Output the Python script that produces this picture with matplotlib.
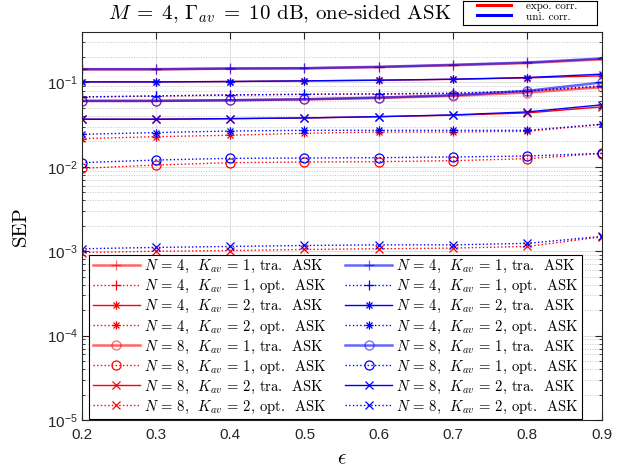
"""
SEP vs correlation coefficient, one-sided ASK (M = 4, Gamma_av = 10 dB).
"""

import matplotlib
matplotlib.use("Agg")
import matplotlib.pyplot as plt
from matplotlib.path import Path
from matplotlib.ticker import LogLocator, NullFormatter

plt.rcParams["font.family"] = ["Liberation Sans", "DejaVu Sans"]
plt.rcParams["mathtext.fontset"] = "cm"

eps = [0.2, 0.3, 0.4, 0.5, 0.6, 0.7, 0.8, 0.9]

# exponential correlation (red)
expo_n4_k1_tra = [0.143, 0.143, 0.146, 0.147, 0.152, 0.160, 0.170, 0.188]
expo_n4_k1_opt = [0.0672, 0.0690, 0.0710, 0.0723, 0.0730, 0.0742, 0.0790, 0.089]
expo_n4_k2_tra = [0.1017, 0.1017, 0.1027, 0.1046, 0.1063, 0.1090, 0.1135, 0.1199]
expo_n4_k2_opt = [0.0216, 0.0228, 0.0237, 0.0250, 0.0259, 0.0259, 0.0264, 0.0318]
expo_n8_k1_tra = [0.0605, 0.0605, 0.0616, 0.0630, 0.0655, 0.0694, 0.0760, 0.0880]
expo_n8_k1_opt = [0.00960, 0.01051, 0.01121, 0.01141, 0.01152, 0.01184, 0.0125, 0.01440]
expo_n8_k2_tra = [0.0367, 0.0367, 0.0373, 0.0380, 0.0393, 0.0410, 0.0436, 0.0514]
expo_n8_k2_opt = [0.000965, 0.00100, 0.00102, 0.00105, 0.00107, 0.00109, 0.00114, 0.00148]

# uniform correlation (blue)
uni_n4_k1_tra = [0.1439, 0.1439, 0.1466, 0.1479, 0.1534, 0.1620, 0.1726, 0.1926]
uni_n4_k1_opt = [0.0675, 0.0694, 0.0713, 0.0726, 0.0733, 0.0746, 0.0796, 0.0912]
uni_n4_k2_tra = [0.1017, 0.1017, 0.1027, 0.1046, 0.1065, 0.1094, 0.1146, 0.1255]
uni_n4_k2_opt = [0.0243, 0.0255, 0.0266, 0.0271, 0.0271, 0.0271, 0.0271, 0.0320]
uni_n8_k1_tra = [0.0605, 0.0605, 0.0616, 0.0633, 0.0663, 0.0707, 0.0796, 0.1000]
uni_n8_k1_opt = [0.01121, 0.01205, 0.01262, 0.01273, 0.01285, 0.01309, 0.01345, 0.01446]
uni_n8_k2_tra = [0.0367, 0.0367, 0.0373, 0.0380, 0.0394, 0.0413, 0.0448, 0.0543]
uni_n8_k2_opt = [0.00107, 0.00111, 0.00114, 0.00117, 0.00119, 0.00119, 0.00124, 0.00150]

# matlab style asterisk = plus + cross
ast = Path(
    [(-1, 0), (1, 0), (0, -1), (0, 1),
     (-0.72, -0.72), (0.72, 0.72), (-0.72, 0.72), (0.72, -0.72)],
    [Path.MOVETO, Path.LINETO] * 4,
)

# (N, K, scheme, marker, linestyle, expo values, uni values)
series = [
    (4, 1, "tra.", "+", "-", expo_n4_k1_tra, uni_n4_k1_tra),
    (4, 1, "opt.", "+", ":", expo_n4_k1_opt, uni_n4_k1_opt),
    (4, 2, "tra.", ast, "-", expo_n4_k2_tra, uni_n4_k2_tra),
    (4, 2, "opt.", ast, ":", expo_n4_k2_opt, uni_n4_k2_opt),
    (8, 1, "tra.", "o", "-", expo_n8_k1_tra, uni_n8_k1_tra),
    (8, 1, "opt.", "o", ":", expo_n8_k1_opt, uni_n8_k1_opt),
    (8, 2, "tra.", "x", "-", expo_n8_k2_tra, uni_n8_k2_tra),
    (8, 2, "opt.", "x", ":", expo_n8_k2_opt, uni_n8_k2_opt),
]

fig = plt.figure(figsize=(6.28, 4.71), dpi=100)
ax = fig.add_axes([0.130, 0.1083, 0.828, 0.8244])

handles = []
for col_idx, color in enumerate(["red", "blue"]):
    for n, k, scheme, marker, ls, expo_vals, uni_vals in series:
        vals = expo_vals if col_idx == 0 else uni_vals
        thick = ls == "-" and marker in ("+", "o")
        msize = 6.5 if marker in ("o", "+") else 6.0
        line, = ax.plot(
            eps, vals, color=color, linestyle=ls, marker=marker,
            markersize=msize, markerfacecolor="none", markeredgewidth=0.9,
            linewidth=1.8 if thick else 1.0, alpha=0.6 if thick else 1.0,
            label=rf"$N\,=\,{n}$,  $K_{{av}}\,=\,{k}$, {scheme}  ASK",
        )
        handles.append(line)

ax.set_yscale("log")
ax.set_xlim(0.2, 0.9)
ax.set_ylim(1e-5, 0.4)
ax.set_xticks(eps)
ax.yaxis.set_major_locator(LogLocator(base=10, numticks=10))
ax.yaxis.set_minor_locator(LogLocator(base=10, subs=range(2, 10), numticks=20))
ax.yaxis.set_minor_formatter(NullFormatter())

ax.grid(True, which="major", color="#dedede", linewidth=0.7, linestyle="-")
ax.grid(True, which="minor", axis="y", color="#c4c4c4", linewidth=0.7, linestyle=":")
ax.set_axisbelow(True)

for sp in ax.spines.values():
    sp.set_color("#262626")
    sp.set_linewidth(0.8)
ax.tick_params(which="both", direction="in", top=True, right=True, colors="#262626")
ax.tick_params(which="major", length=5, labelsize=11)
ax.tick_params(which="minor", length=2.5)
ax.tick_params(axis="x", pad=6)
ax.tick_params(axis="y", pad=3)

ax.set_ylabel("SEP", family="cmr10", fontsize=15)
ax.yaxis.set_label_coords(-0.10, 0.5)
ax.set_xlabel(r"$\epsilon$", fontsize=15)
ax.xaxis.set_label_coords(0.5, -0.075)

fig.text(0.172, 1 - 19.5 / 471,
         r"$M\;=\;4$, $\Gamma_{av}\;=\;10$ dB, one-sided ASK",
         family="cmr10", fontsize=15, ha="left", va="baseline")

leg = ax.legend(
    handles=handles, ncol=2, loc="lower left",
    bbox_to_anchor=(0.0146, 0.002, 0.947, 0.41), mode="expand",
    prop={"family": "cmr10", "size": 10.6}, borderaxespad=0,
    handlelength=3.2, handletextpad=0.25, labelspacing=0.2,
    borderpad=0.25, fancybox=False, framealpha=1, edgecolor="black",
)
leg.get_frame().set_linewidth(0.8)

# small colour key above the axes
kax = fig.add_axes([463 / 628, 1 - 24.5 / 471, 134 / 628, 24 / 471])
kax.set_xlim(0, 1)
kax.set_ylim(0, 1)
kax.set_xticks([])
kax.set_yticks([])
for sp in kax.spines.values():
    sp.set_linewidth(0.8)
kax.plot([0.102, 0.356], [0.80, 0.80], color="red", linewidth=2.2)
kax.plot([0.102, 0.356], [0.38, 0.38], color="blue", linewidth=2.2)
kax.text(0.47, 0.76, "expo. corr.", family="cmr10", fontsize=8, va="center")
kax.text(0.47, 0.30, "uni. corr.", family="cmr10", fontsize=8, va="center")

fig.savefig("out.png", dpi=100)
